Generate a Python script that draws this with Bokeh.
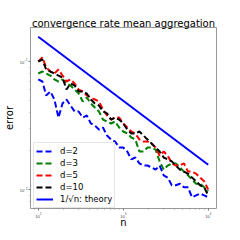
from bokeh.plotting import figure
from bokeh.models import Range1d, Legend, LegendItem, FixedTicker, LogTickFormatter
from bokeh.embed import file_html
from bokeh.resources import INLINE

n = [100, 112, 124, 139, 155, 173, 193, 215, 240, 268, 299, 334, 373, 416, 464,
     518, 578, 645, 720, 803, 896, 1000, 1116, 1245, 1389, 1550, 1729, 1931, 2154,
     2404, 2683, 2994, 3340, 3728, 4160, 4642, 5179, 5780, 6449, 7197, 8030, 8961, 10000]

err_d2 = [0.0724, 0.0698, 0.0543, 0.0583, 0.0505, 0.0365, 0.0470, 0.0505, 0.0453, 0.0407,
          0.0407, 0.0365, 0.0379, 0.0328, 0.0316, 0.0294, 0.0305, 0.0264, 0.0246, 0.0237,
          0.0213, 0.0213, 0.0198, 0.0172, 0.0178, 0.0160, 0.0154, 0.0154, 0.0149, 0.0143,
          0.0154, 0.0129, 0.0124, 0.0108, 0.0108, 0.0111, 0.0104, 0.0104, 0.0087, 0.0090,
          0.0093, 0.0090, 0.0087]
err_d3 = [0.0806, 0.0835, 0.0806, 0.0777, 0.0724, 0.0698, 0.0724, 0.0673, 0.0650, 0.0604,
          0.0562, 0.0487, 0.0523, 0.0470, 0.0437, 0.0407, 0.0352, 0.0340, 0.0328, 0.0340,
          0.0305, 0.0284, 0.0274, 0.0255, 0.0246, 0.0198, 0.0198, 0.0213, 0.0213, 0.0205,
          0.0166, 0.0143, 0.0154, 0.0160, 0.0160, 0.0149, 0.0138, 0.0129, 0.0120, 0.0111,
          0.0111, 0.0104, 0.0097]
err_d5 = [0.1000, 0.1075, 0.0898, 0.0835, 0.0806, 0.0866, 0.0777, 0.0698, 0.0724, 0.0673,
          0.0604, 0.0583, 0.0543, 0.0523, 0.0505, 0.0487, 0.0422, 0.0379, 0.0352, 0.0365,
          0.0365, 0.0328, 0.0305, 0.0284, 0.0274, 0.0246, 0.0237, 0.0237, 0.0229, 0.0213,
          0.0184, 0.0198, 0.0184, 0.0160, 0.0154, 0.0154, 0.0160, 0.0138, 0.0138, 0.0133,
          0.0124, 0.0116, 0.0100]
err_d10 = [0.1000, 0.1037, 0.0866, 0.0835, 0.0806, 0.0777, 0.0750, 0.0604, 0.0673, 0.0650,
           0.0583, 0.0583, 0.0562, 0.0505, 0.0470, 0.0453, 0.0407, 0.0393, 0.0352, 0.0365,
           0.0352, 0.0328, 0.0294, 0.0274, 0.0274, 0.0284, 0.0264, 0.0246, 0.0229, 0.0213,
           0.0198, 0.0178, 0.0172, 0.0166, 0.0154, 0.0143, 0.0138, 0.0133, 0.0124, 0.0116,
           0.0108, 0.0104, 0.0090]

theory_n = [100, 10000]
theory_err = [0.156, 0.0156]

labels = ["d=2", "d=3", "d=5", "d=10", "1/\u221an: theory"]
colors = ["blue", "green", "red", "black", "blue"]

x_major = [100, 1000, 10000]
x_minor = [90, 200, 300, 400, 500, 600, 700, 800, 900,
           2000, 3000, 4000, 5000, 6000, 7000, 8000, 9000, 20000]
y_major = [0.01, 0.1]
y_minor = [0.008, 0.009, 0.02, 0.03, 0.04, 0.05, 0.06, 0.07, 0.08, 0.09]

p = figure(x_axis_type="log", y_axis_type="log",
           frame_width=186, frame_height=181,
           min_border_left=22, min_border_right=24,
           min_border_top=27, min_border_bottom=20,
           x_range=Range1d(81.1, 12520), y_range=Range1d(0.00711, 0.1843),
           output_backend="svg", toolbar_location=None,
           title="convergence rate mean aggregation")

p.title.text_font = "DejaVu Sans"
p.title.text_font_size = "10px"
p.title.text_font_style = "normal"
p.title.text_color = "black"
p.title.align = "center"
p.title.standoff = -2

p.grid.visible = False
p.outline_line_color = "#999999"
p.outline_line_width = 1
p.background_fill_color = "white"

p.xaxis[0].ticker = FixedTicker(ticks=x_major, minor_ticks=x_minor)
p.yaxis[0].ticker = FixedTicker(ticks=y_major, minor_ticks=y_minor)

for ax in (p.xaxis[0], p.yaxis[0]):
    ax.formatter = LogTickFormatter()
    ax.axis_line_color = None
    ax.major_tick_in = 0
    ax.major_tick_out = 2
    ax.minor_tick_in = 0
    ax.minor_tick_out = 1
    ax.major_tick_line_color = "#777777"
    ax.minor_tick_line_color = "#999999"
    ax.major_label_text_font_size = "4px"
    ax.major_label_text_color = "#444444"
    ax.major_label_standoff = 2
    ax.axis_label_text_font = "DejaVu Sans"
    ax.axis_label_text_font_size = "10px"
    ax.axis_label_text_font_style = "normal"
    ax.axis_label_text_color = "black"
    ax.axis_label_standoff = -4

p.yaxis[0].axis_label_standoff = 2
p.yaxis[0].major_label_standoff = 1

p.xaxis.axis_label = "n"
p.yaxis.axis_label = "error"

series = [err_d2, err_d3, err_d5, err_d10]
renderers = []
for vals, c in zip(series, colors[:4]):
    r = p.line(n, vals, line_color=c, line_width=2, line_dash="6 3")
    renderers.append(r)
rt = p.line(theory_n, theory_err, line_color=colors[4], line_width=2)
renderers.append(rt)

legend = Legend(items=[LegendItem(label=l, renderers=[r]) for l, r in zip(labels, renderers)],
                location=(3, 0), padding=2, spacing=0,
                glyph_height=12, glyph_width=17, label_height=12,
                label_standoff=7, label_text_font="DejaVu Sans",
                label_text_font_size="8.5px", label_text_color="black",
                border_line_color="#cccccc", border_line_width=1,
                background_fill_color="white", background_fill_alpha=0.85,
                margin=0)
p.add_layout(legend, "center")

open("out.html", "w").write(file_html(p, INLINE))
